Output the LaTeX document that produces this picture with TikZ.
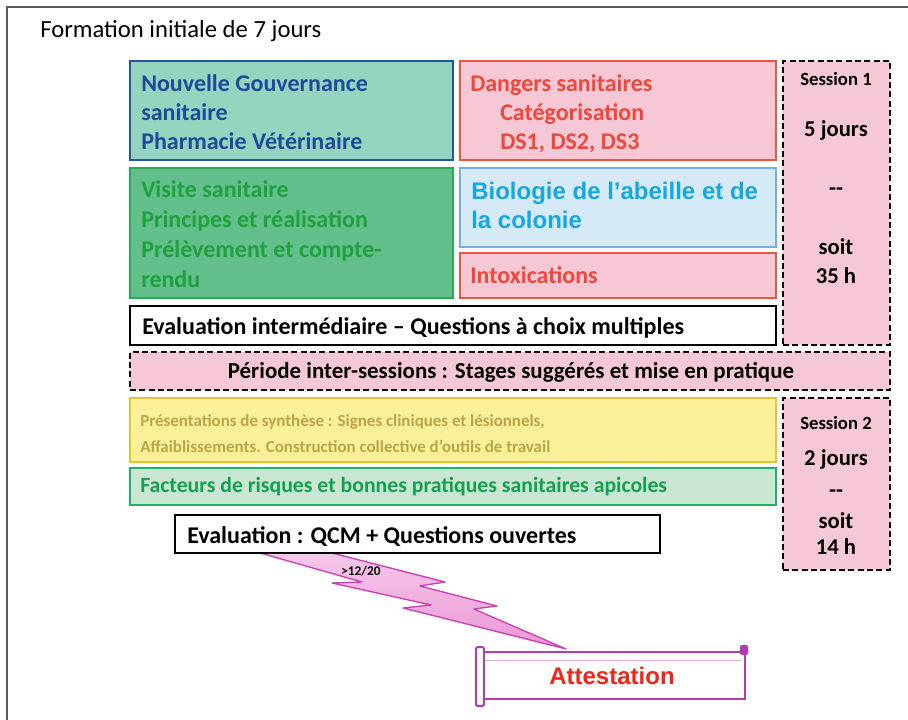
\documentclass[tikz,border=0pt]{standalone}
\usepackage{fontspec}
\setmainfont{Carlito}
\newfontfamily\arialf{Liberation Sans}
\usetikzlibrary{fit}
\definecolor{framegray}{RGB}{90,90,90}
\definecolor{tealfill}{RGB}{148,212,190}
\definecolor{gvblue}{RGB}{38,82,168}
\definecolor{gvtext}{RGB}{32,72,155}
\definecolor{grfill}{RGB}{98,190,138}
\definecolor{grborder}{RGB}{40,172,82}
\definecolor{grtext}{RGB}{30,162,62}
\definecolor{pinkfill}{RGB}{246,199,213}
\definecolor{redborder}{RGB}{236,88,62}
\definecolor{redtext}{RGB}{236,72,60}
\definecolor{bifill}{RGB}{214,233,246}
\definecolor{biborder}{RGB}{112,176,230}
\definecolor{bitext}{RGB}{22,166,226}
\definecolor{sessfill}{RGB}{246,200,214}
\definecolor{yelfill}{RGB}{250,240,152}
\definecolor{yelborder}{RGB}{226,196,52}
\definecolor{yeltext}{RGB}{186,166,72}
\definecolor{facfill}{RGB}{200,230,210}
\definecolor{facborder}{RGB}{30,176,100}
\definecolor{factext}{RGB}{20,160,80}
\definecolor{boltfill}{RGB}{234,150,212}
\definecolor{boltlight}{RGB}{246,200,234}
\definecolor{boltborder}{RGB}{200,64,180}
\definecolor{scrollborder}{RGB}{176,60,176}
\definecolor{attred}{RGB}{236,40,30}
\begin{document}
\begin{tikzpicture}[x=0.75pt,y=-0.75pt,
  box/.style={inner sep=0pt,outer sep=0pt,line width=1.8pt},
  evalbox/.style={inner sep=0pt,outer sep=0pt,line width=2.2pt,draw=black,fill=white},
  sessbox/.style={inner sep=0pt,outer sep=0pt,line width=2pt,draw=black,fill=sessfill,dash pattern=on 4.5pt off 2.5pt},
  lbl/.style={anchor=base west,inner sep=0pt,font=\bfseries\fontsize{18}{21}\selectfont},
  slbl/.style={anchor=base,inner sep=0pt,font=\bfseries\fontsize{17}{20}\selectfont},
  stitle/.style={anchor=base,inner sep=0pt,font=\bfseries\fontsize{14}{16}\selectfont},
  framest/.style={draw=framegray,line width=1.5pt},
  bolt/.style={draw=boltborder,line width=1pt,top color=boltlight,bottom color=boltfill,line join=round},
  scroll/.style={draw=scrollborder,line width=1.5pt,fill=white}
]
\useasboundingbox (0,0) rectangle (908,720);
% frame
\coordinate (fbl) at (7,720);
\coordinate (ftl) at (7,7);
\coordinate (ftr) at (908,7);
\draw[framest] (fbl) -- (ftl) -- (ftr);
% title
\node[anchor=base west,inner sep=0pt,font=\fontsize{18.5}{21}\selectfont] (title) at (40,38) {Formation initiale de 7 jours};

% top-left boxes
\node[box,draw=gvblue,fill=tealfill,fit={(130,61)(453,160)}] (gouv) {};
\node[lbl,text=gvtext] (gouv1) at (141,92) {Nouvelle Gouvernance};
\node[lbl,text=gvtext] (gouv2) at (141,121) {sanitaire};
\node[lbl,text=gvtext] (gouv3) at (141,150) {Pharmacie Vétérinaire};

\node[box,draw=grborder,fill=grfill,fit={(130,168)(453,298)}] (visite) {};
\node[lbl,text=grtext] (vis1) at (141,198) {Visite sanitaire};
\node[lbl,text=grtext] (vis2) at (141,228) {Principes et réalisation};
\node[lbl,text=grtext] (vis3) at (141,258) {Prélèvement et compte-};
\node[lbl,text=grtext] (vis4) at (141,288) {rendu};

% right column boxes
\node[box,draw=redborder,fill=pinkfill,fit={(460,61)(776,160)}] (dangers) {};
\node[lbl,text=redtext] (dan1) at (470,92) {Dangers sanitaires};
\node[lbl,text=redtext] (dan2) at (500,121) {Catégorisation};
\node[lbl,text=redtext] (dan3) at (500,150) {DS1, DS2, DS3};

\node[box,draw=biborder,fill=bifill,fit={(460,168)(776,247)}] (bio) {};
\node[lbl,text=bitext,font=\arialf\bfseries\fontsize{18}{21}\selectfont] (bio1) at (471,200) {Biologie de l’abeille et de};
\node[lbl,text=bitext,font=\arialf\bfseries\fontsize{18}{21}\selectfont] (bio2) at (471,229) {la colonie};

\node[box,draw=redborder,fill=pinkfill,fit={(460,253)(776,298)}] (intox) {};
\node[lbl,text=redtext] (intox1) at (470,284) {Intoxications};

% evaluation intermediaire
\node[evalbox,fit={(130,306)(776,345)}] (evalint) {};
\node[lbl] (evalint1) at (142,335) {Evaluation intermédiaire – Questions à choix multiples};

% session 1
\node[sessbox,fit={(783,61)(890,345)}] (sess1) {};
\node[stitle] (s1a) at (836,86) {Session 1};
\node[slbl] (s1b) at (836,137) {5 jours};
\node[slbl] (s1c) at (836,196) {-{}-};
\node[slbl] (s1d) at (836,255) {soit};
\node[slbl] (s1e) at (836,284) {35 h};

% periode
\node[sessbox,fit={(130,352)(890,390)}] (periode) {};
\node[anchor=base,inner sep=0pt,font=\bfseries\fontsize{17.2}{20}\selectfont] (per1) at (511,379) {Période inter-sessions : Stages suggérés et mise en pratique};

% session 2 content
\node[box,draw=yelborder,fill=yelfill,fit={(130,398)(776,462)}] (synth) {};
\node[lbl,text=yeltext,font=\bfseries\fontsize{12.7}{15}\selectfont] (syn1) at (140,427) {Présentations de synthèse : Signes cliniques et lésionnels,};
\node[lbl,text=yeltext,font=\bfseries\fontsize{12.7}{15}\selectfont] (syn2) at (140,453) {Affaiblissements. Construction collective d’outils de travail};

\node[box,draw=facborder,fill=facfill,fit={(130,468)(776,505)}] (fact) {};
\node[lbl,text=factext,font=\bfseries\fontsize{16.3}{19}\selectfont] (fact1) at (140,493) {Facteurs de risques et bonnes pratiques sanitaires apicoles};

\node[sessbox,fit={(783,398)(890,570)}] (sess2) {};
\node[stitle] (s2a) at (836,430) {Session 2};
\node[slbl] (s2b) at (836,466) {2 jours};
\node[slbl] (s2c) at (836,498) {-{}-};
\node[slbl] (s2d) at (836,528) {soit};
\node[slbl] (s2e) at (836,555) {14 h};

% lightning bolt
\draw[bolt] (260,553) -- (332,553) -- (445,582) -- (420,586) -- (497,606) -- (474,609) -- (566,649)
  -- (403,608) -- (431,605) -- (332,583) -- (362,582) -- cycle;

% evaluation finale
\node[evalbox,fit={(175,515)(660,553)}] (evalfin) {};
\node[lbl] (evalfin1) at (187,544) {Evaluation : QCM + Questions ouvertes};
\node[anchor=center,inner sep=0pt,font=\bfseries\fontsize{10}{12}\selectfont] (seuil) at (361,571) {>12/20};

% attestation scroll
\node[scroll,inner sep=0pt,outer sep=0pt,fit={(480,652)(745,699)}] (scrollbox) {};
\draw[scrollborder,line width=0.6pt,opacity=0.4] (483,660) -- (742,660);
\draw[scroll,rounded corners=1.5pt] (476,647) rectangle (484,706);
\fill[scrollborder,rounded corners=1.5pt] (740,645) rectangle (748,655);
\node[inner sep=0pt,text=attred,font=\arialf\bfseries\fontsize{18}{21}\selectfont] (attest) at (612,676) {Attestation};
\end{tikzpicture}
\end{document}
